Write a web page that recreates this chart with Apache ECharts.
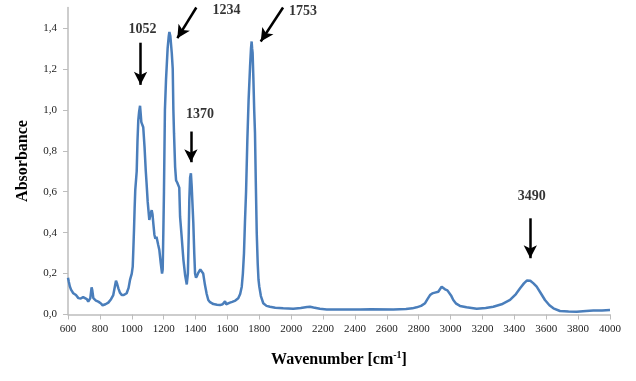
<!DOCTYPE html>
<html><head><meta charset="utf-8">
<script src="https://cdn.jsdelivr.net/npm/echarts@6/dist/echarts.min.js"></script>
<style>html,body{margin:0;padding:0;background:#fff}#c{width:636px;height:381px}</style>
</head><body><div id="c"></div>
<script>
var wavenumbers = [600,605,612,620,633,650,665,680,695,707,718,727,740,748,752,759,775,790,805,817,835,853,870,884,895,901,908,916,925,937,950,968,980,989,1000,1006,1010,1014,1018,1022,1031,1036,1041,1046,1052,1056,1060,1066,1072,1080,1088,1093,1100,1110,1118,1125,1130,1135,1142,1148,1155,1160,1166,1173,1182,1190,1194,1198,1202,1208,1215,1225,1232,1236,1242,1251,1257,1261,1265,1272,1278,1285,1292,1298,1303,1313,1324,1335,1345,1352,1357,1361,1366,1371,1376,1382,1386,1392,1397,1403,1410,1418,1430,1439,1448,1459,1470,1480,1491,1512,1535,1554,1570,1585,1592,1602,1616,1630,1650,1668,1680,1690,1697,1704,1710,1717,1725,1733,1742,1748,1752,1755,1758,1763,1768,1773,1778,1784,1790,1795,1800,1810,1825,1845,1867,1900,1950,2013,2060,2100,2118,2140,2180,2223,2300,2432,2500,2641,2720,2760,2787,2815,2840,2855,2871,2885,2902,2923,2935,2944,2952,2965,2980,2992,3005,3017,3035,3059,3100,3164,3220,3268,3320,3373,3410,3436,3460,3478,3488,3500,3520,3540,3565,3592,3620,3645,3686,3740,3791,3850,3895,3950,4000];
var absorbance = [0.18,0.16,0.136,0.12,0.104,0.095,0.08,0.078,0.085,0.09,0.075,0.063,0.08,0.133,0.12,0.08,0.068,0.063,0.055,0.045,0.05,0.058,0.075,0.095,0.14,0.165,0.15,0.128,0.108,0.095,0.095,0.104,0.13,0.169,0.2,0.234,0.32,0.413,0.52,0.609,0.7,0.85,0.95,0.99,1.02,0.98,0.94,0.935,0.915,0.82,0.7,0.64,0.55,0.462,0.49,0.51,0.49,0.447,0.39,0.37,0.38,0.372,0.34,0.315,0.25,0.2,0.22,0.4,0.6,1.0,1.15,1.3,1.36,1.38,1.36,1.277,1.2,1.0,0.886,0.72,0.655,0.645,0.64,0.62,0.478,0.38,0.267,0.19,0.147,0.2,0.38,0.56,0.67,0.69,0.625,0.52,0.45,0.3,0.2,0.18,0.19,0.205,0.22,0.222,0.2,0.145,0.1,0.071,0.06,0.051,0.048,0.046,0.05,0.065,0.05,0.042,0.058,0.062,0.068,0.079,0.1,0.136,0.2,0.3,0.45,0.6,0.85,1.05,1.21,1.3,1.334,1.3,1.28,1.15,1.0,0.886,0.65,0.397,0.25,0.17,0.136,0.09,0.055,0.042,0.038,0.033,0.03,0.028,0.032,0.037,0.038,0.034,0.028,0.025,0.025,0.025,0.026,0.025,0.027,0.03,0.035,0.042,0.055,0.075,0.095,0.103,0.107,0.111,0.12,0.136,0.128,0.123,0.118,0.111,0.09,0.071,0.053,0.042,0.035,0.028,0.032,0.038,0.05,0.071,0.1,0.128,0.152,0.166,0.17,0.165,0.152,0.136,0.105,0.071,0.045,0.03,0.017,0.015,0.014,0.017,0.019,0.02,0.022];
var yTicks = [0,0.2,0.4,0.6,0.8,1.0,1.2,1.4];
// peak annotations: label text, label position, arrow tail, arrow tip (data coords)
var peakLabels = ['1052','1234','1370','1753','3490'];
var labelPos = [[1068,1.395],[1595,1.486],[1428,0.979],[2074,1.479],[3509,0.576]];
var arrowTail = [[1055,1.328],[1405,1.5],[1371,0.894],[1949,1.5],[3500,0.47]];
var arrowTip = [[1055,1.122],[1286,1.35],[1371,0.744],[1809,1.334],[3500,0.275]];

var serif = 'Liberation Serif';
var chart = echarts.init(document.getElementById('c'));
var lineData = wavenumbers.map(function(w,i){return [w, absorbance[i]];});
chart.setOption({
  animation:false,
  grid:{left:68,right:26,top:7.5,bottom:66.5},
  xAxis:{type:'value',min:600,max:4000,interval:200,
    name:'{n|Wavenumber [cm}{s|-1}{n|]}',nameLocation:'middle',nameGap:36,
    nameTextStyle:{rich:{n:{fontFamily:serif,fontWeight:'bold',fontSize:16,color:'#000'},s:{fontFamily:serif,fontWeight:'bold',fontSize:10,color:'#000',verticalAlign:'top',padding:[0,0,8,0]}}},
    axisLine:{lineStyle:{color:'#bdbdbd',width:1.5}},
    axisTick:{show:true,length:5,lineStyle:{color:'#bdbdbd'}},
    axisLabel:{fontFamily:serif,fontSize:11,color:'#222',margin:9,formatter:function(v){return String(v);}},
    splitLine:{show:false}},
  yAxis:{type:'value',min:0,max:1.5,
    name:'Absorbance',nameLocation:'middle',nameGap:37,nameRotate:90,
    nameTextStyle:{fontFamily:serif,fontWeight:'bold',fontSize:16,color:'#000'},
    axisLine:{show:true,lineStyle:{color:'#bdbdbd',width:1.5}},
    axisTick:{show:true,length:5,customValues:yTicks,lineStyle:{color:'#bdbdbd'}},
    axisLabel:{fontFamily:serif,fontSize:11,color:'#222',margin:11,customValues:yTicks,
      formatter:function(v){return v.toFixed(1).replace('.',',');}},
    splitLine:{show:false}},
  series:[
    {type:'line',data:lineData,showSymbol:false,clip:false,
     lineStyle:{color:'#4a7ebb',width:2.5},
     markLine:{silent:true,symbol:['none','arrow'],symbolSize:[10,13],
       lineStyle:{color:'#000',width:2.5,type:'solid'},label:{show:false},
       data:arrowTail.map(function(t,i){return [{coord:t},{coord:arrowTip[i]}];})}},
    {type:'scatter',data:labelPos.map(function(p,i){return {value:p,name:peakLabels[i]};}),
     symbolSize:0,clip:false,silent:true,
     label:{show:true,position:'inside',formatter:'{b}',fontFamily:serif,fontWeight:'bold',fontSize:14,color:'#000'}}
  ]
});
</script></body></html>
